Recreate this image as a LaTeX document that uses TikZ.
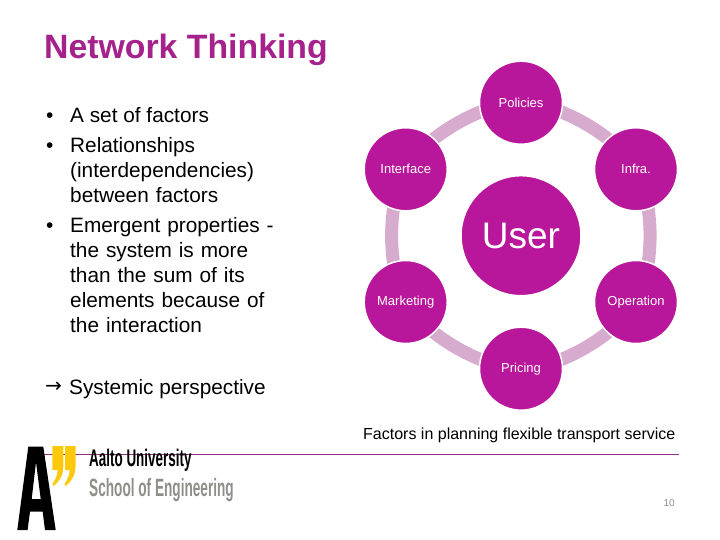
\documentclass[tikz,border=0pt]{standalone}
\usepackage{fontspec}
\setmainfont{Liberation Sans}
\newfontfamily\arrowfont{DejaVu Sans}
\usetikzlibrary{backgrounds}
\definecolor{mag}{HTML}{B9179B}
\definecolor{arcc}{HTML}{D6ABCD}
\definecolor{ttl}{HTML}{A5218B}
\definecolor{rulec}{HTML}{8E2F80}
\definecolor{gy}{HTML}{8F8F8A}
\definecolor{yel}{HTML}{FFC90B}
\tikzset{
  factor/.style={circle,fill=mag,draw=white,line width=1.5pt,minimum size=83pt,inner sep=0pt,text=white,font=\fontsize{13}{15}\selectfont},
  link/.style={draw=arcc,line width=13pt,looseness=.725},
  body/.style={anchor=north west,inner sep=0pt,align=left,text width=225pt,font=\fontsize{20.8}{25}\selectfont},
  bull/.style={anchor=base west,inner sep=0pt,font=\fontsize{20.8}{25}\selectfont},
}
\begin{document}
\begin{tikzpicture}[x=1pt,y=-1pt]
\useasboundingbox (0,0) rectangle (720,540);
% title
\node[anchor=west,inner sep=0pt,text=ttl,font=\bfseries\fontsize{33.8}{36}\selectfont] (title) at (44,50) {Network Thinking};
% bullets
\node[bull] (b1) at (46,122.8) {•};
\node[bull] (t1) at (70,122.8) {A set of factors};
\node[bull] (b2) at (46,152.8) {•};
\node[body,anchor=base west] (t2) at (70,152.8) {Relationships\\(interdependencies)\\between factors};
\node[bull] (b3) at (46,232.8) {•};
\node[body,anchor=base west] (t3) at (70,232.8) {Emergent properties -\\the system is more\\than the sum of its\\elements because of\\the interaction};
\node[bull,font=\arrowfont\fontsize{20}{25}\selectfont] (a4) at (45,392) {→};
\node[bull] (t4) at (69,394) {Systemic perspective};
% network
\node[factor,minimum size=120pt,font=\fontsize{37}{40}\selectfont] (user) at (521,235.7) {User};
\node[factor] (pol) at (521,102.7) {Policies};
\node[factor] (inf) at (636,169.3) {Infra.};
\node[factor] (ope) at (636,302) {Operation};
\node[factor] (pri) at (521,368.7) {Pricing};
\node[factor] (mar) at (405.7,302) {Marketing};
\node[factor] (int) at (405.7,169.3) {Interface};
\begin{scope}[on background layer]
\draw[link] (pol.center) to[bend left=30] (inf.center);
\draw[link] (inf.center) to[bend left=30] (ope.center);
\draw[link] (ope.center) to[bend left=30] (pri.center);
\draw[link] (pri.center) to[bend left=30] (mar.center);
\draw[link] (mar.center) to[bend left=30] (int.center);
\draw[link] (int.center) to[bend left=30] (pol.center);
\end{scope}
% caption
\node[anchor=west,inner sep=0pt,font=\fontsize{16}{18}\selectfont] (cap) at (363,435) {Factors in planning flexible transport service};
\coordinate (rl) at (30,454.3);
\coordinate (rr) at (679,454.3);
\draw[rulec,line width=1pt] (rl) -- (rr);
\node[anchor=east,inner sep=0pt,text=gy,font=\fontsize{10}{12}\selectfont] (pg) at (675,503) {10};
% logo
\fill[black,even odd rule] (17.3,530) -- (28.3,446.7) -- (43.3,446.7) -- (55.7,530) -- (45,530) -- (42.7,511.7) -- (30,511.7) -- (27.6,530) -- cycle
  (31.7,499) -- (40.7,499) -- (36,462) -- cycle;
\fill[yel] (52.3,446) -- (63.3,446) -- (63.3,466) .. controls (63.3,475) and (60,481) .. (53.5,486) -- (52.5,484) .. controls (55,480) and (57.5,476) .. (57.7,470) -- (52.3,470) -- cycle;
\fill[yel] (65,446) -- (75.5,446) -- (75.5,466) .. controls (75.5,475) and (72,481) .. (65.5,486) -- (64.5,484) .. controls (67,480) and (69.5,476) .. (69.7,470) -- (65,470) -- cycle;
\node[anchor=west,inner sep=0pt,font=\bfseries\fontsize{24}{26}\selectfont] (aalto) at (89,460) {\scalebox{.56}[1]{Aalto University}};
\node[anchor=west,inner sep=0pt,text=gy,font=\bfseries\fontsize{25}{26}\selectfont] (soe) at (89,490.5) {\scalebox{.545}[1]{School of Engineering}};
\end{tikzpicture}
\end{document}
